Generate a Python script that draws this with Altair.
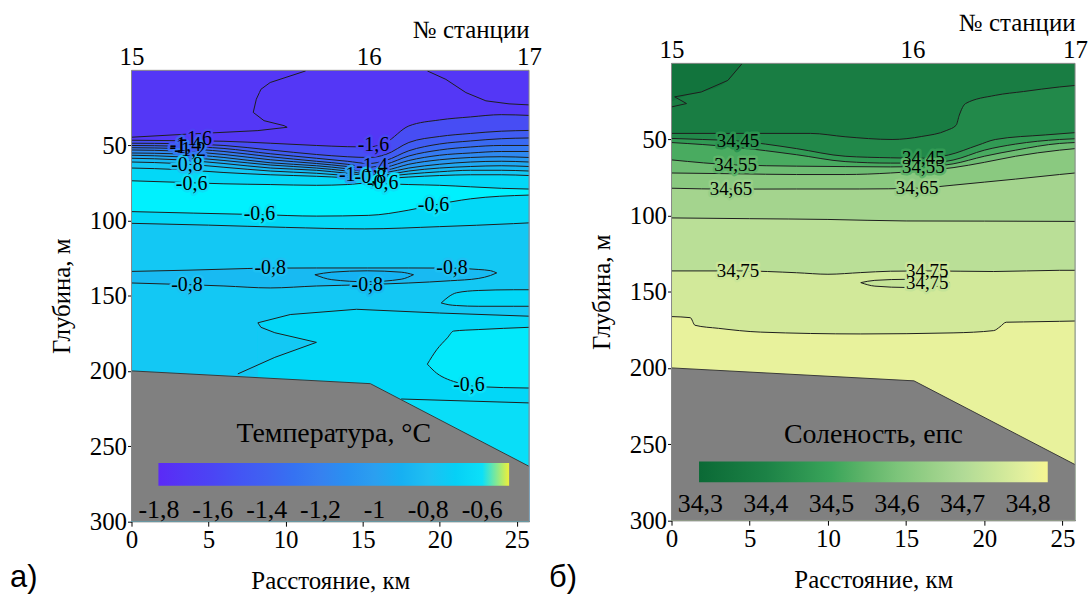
import altair as alt
import pandas as pd

FONT = "Liberation Serif, Times New Roman, serif"
PANEL_FONT = "Liberation Sans, Arial, sans-serif"
LINE_COLOR = "#1e1e1e"

# ---------------- common geometry of the section ----------------
STATION_KM = [0.0, 15.4, 25.8]
STATION_NAMES = ["15", "16", "17"]
X_TICKS = [0, 5, 10, 15, 20, 25]
Y_TICKS = [50, 100, 150, 200, 250, 300]
X_MAX = 25.8
DEPTH_MAX = 300.0
SEABED_KM = [0.0, 15.5, 25.8]
SEABED_DEPTH = [200.0, 208.5, 263.5]

# ---------------- temperature (panel a) ----------------
T_DOMAIN = [-1.802, -1.6, -1.4, -1.2, -1.0, -0.8, -0.6, -0.53, -0.517, -0.5]
T_RANGE = ["#5b2af6", "#4b45f4", "#3f62f2", "#3681f0", "#2b9ff0",
           "#1fc0f2", "#0ce0f8", "#00f4ff", "#cfee4a", "#eef03a"]
T_LEGEND_VALUES = [-1.8, -1.6, -1.4, -1.2, -1.0, -0.8, -0.6]
T_SURFACE = -1.72

# isotherms crossing the whole section: depth (m) at T_ISO_X (km)
T_ISO_X = [0, 3, 6, 9, 12, 14, 15.4, 16.5, 18, 20, 22, 24, 25.8]
T_ISO_M16 = [46.5, 46.8, 47.2, 48.5, 50, 50.8, 51, 48, 37, 33, 31, 29.5, 30]
T_ISO_M15 = [48.5, 48.8, 50, 53, 56, 57.5, 58, 56, 48, 44, 42, 40.5, 40]
T_ISO_M14 = [50, 50.5, 52, 55.5, 58.5, 60.5, 62, 60, 53.5, 49, 47, 45.5, 45]
T_ISO_M13 = [51.5, 52, 54, 57.5, 60.5, 62.5, 64.5, 62.5, 57, 53, 51, 50, 50]
T_ISO_M12 = [53, 53.7, 56, 59.5, 62, 64, 66, 64.5, 60, 56.5, 55, 54, 54]
T_ISO_M11 = [55, 55.6, 58, 61.5, 63.5, 65.5, 67.5, 66.5, 62.5, 59.5, 58, 57.5, 58]
T_ISO_M10 = [56.5, 57.5, 60, 63, 65, 67, 69, 68, 65, 62.5, 61, 60.5, 61]
T_ISO_M09 = [58.5, 59.5, 62, 65, 66.5, 68.5, 70, 69.5, 67, 65, 64, 63.5, 64]
T_ISO_M08 = [61, 62, 64.5, 67, 68.5, 70, 71, 70.5, 69, 67.5, 66.5, 66.5, 67]
T_ISO_M07 = [65, 66, 68, 69.5, 70.5, 71.5, 72.5, 72, 71, 70, 69.5, 69.5, 70]
T_ISO_M06 = [73.5, 74.5, 75.5, 76, 76.5, 76, 75, 75.5, 76, 76.5, 77.5, 78.5, 79]
T_ISO_BELOW = [-1.55, -1.45, -1.35, -1.25, -1.15, -1.05, -0.95, -0.85, -0.75, -0.65, -0.54]

T_W06_X = [0, 4, 8.3, 12, 15.4, 18, 19.6, 22, 25.8]
T_W06_D = [94, 95, 96, 97, 96.5, 93, 89.7, 85.5, 83]
T_W06_BELOW = -0.65
T_W07_X = [0, 5, 10, 15.1, 20, 24.8, 25.8]
T_W07_D = [101.8, 103, 104.5, 105.5, 104, 102, 101.5]
T_W07_BELOW = -0.75
T_P07_X = [8.2, 10.3, 14.6, 20, 25.8]
T_P07_D = [168, 162.5, 159, 161.5, 163.6]
T_P07_BELOW = -0.66
T_S06_X = [17.5, 25.8]
T_S06_D = [218.7, 221.3]
T_S06_BELOW = -0.61

# closed / edge-bounded tongues: x, upper depth, lower depth, value inside
T_B08_X = [0, 3.6, 6, 9, 12, 15.3, 18, 20.7, 22.5, 23.3, 23.7]
T_B08_TOP = [133.8, 133, 132.3, 131.6, 131.5, 131.5, 131.5, 131.6, 132.5, 133.3, 134.8]
T_B08_BOT = [141.5, 142.6, 143.5, 144.8, 143.5, 142.6, 141.5, 140, 138.5, 136.5, 134.8]
T_B08_VALUE = -0.84
T_B085_X = [11.9, 13, 15.3, 17.5, 18.3]
T_B085_TOP = [136, 134.3, 133.4, 134.3, 136]
T_B085_BOT = [136, 139.3, 140.7, 139, 136]
T_B085_VALUE = -0.88
T_B07R_X = [20.1, 20.6, 21.1, 22.5, 24.8, 25.8]
T_B07R_TOP = [154.8, 150.5, 148, 146.5, 146, 146]
T_B07R_BOT = [154.8, 156, 156.5, 157, 157, 157]
T_B07R_VALUE = -0.66
T_TONGUE_X = [8.2, 9.3, 12.0]
T_TONGUE_TOP = [168, 174.6, 181]
T_TONGUE_BOT = [196, 191, 181]
T_TONGUE_VALUE = -0.75
T_Q06_X = [19.2, 19.8, 20.5, 20.9, 22.5, 25.8]
T_Q06_TOP = [195.5, 186, 178, 173.5, 172.5, 171]
T_Q06_BOT = [195.5, 201.5, 205.5, 207, 210.5, 211.4]
T_Q06_VALUE = -0.57

# isotherms that fold back on themselves (drawn as ordered paths)
T_P17A_X = [11.3, 9.0, 8.4, 8.3, 8.1, 7.9, 8.6, 9.9, 10.1, 8.2, 3.9, 0]
T_P17A_D = [0.4, 8.1, 12.6, 14.8, 19.2, 28, 33.5, 36.8, 37.9, 40.1, 42.3, 44.5]
T_P17B_X = [19.2, 20.4, 21.7, 23.0, 24.5, 25.8]
T_P17B_D = [0.4, 6, 14.8, 20.3, 22.3, 23]
T_P07_PATH_X = [25.8, 20, 14.6, 10.3, 8.2, 8.4, 9.3, 12.0, 9.3, 6.9]
T_P07_PATH_D = [163.6, 161.5, 159, 162.5, 168, 171, 174.6, 181, 191, 202]

T_LABEL_TEXT = ["-1", "-1,6", "-1,4", "-1,2", "-0,8", "-0,6",
                "-1,6", "-1,4", "-1", "-0,8", "-0,6",
                "-0,6", "-0,6", "-0,8", "-0,8", "-0,8", "-0,8", "-0,6"]
T_LABEL_X = [3.0, 4.2, 3.5, 3.8, 3.6, 3.9,
             15.7, 15.6, 14.0, 15.5, 16.3,
             8.3, 19.6, 9.0, 20.8, 3.6, 15.3, 21.9]
T_LABEL_D = [51.0, 45.5, 49.5, 52.8, 63.0, 75.4,
             50.0, 63.8, 69.5, 70.8, 74.8,
             95.5, 89.5, 131.5, 131.6, 142.6, 142.6, 209.7]
T_LABEL_BG = [-1.3, -1.65, -1.45, -1.25, -0.8, -0.6,
              -1.6, -1.4, -1.0, -0.8, -0.6,
              -0.6, -0.6, -0.8, -0.8, -0.8, -0.84, -0.6]

# ---------------- salinity (panel b) ----------------
S_DOMAIN = [34.298, 34.4, 34.5, 34.6, 34.7, 34.8, 34.83]
S_RANGE = ["#0b6a36", "#1c8246", "#3aa55a", "#7cc47a", "#b0da96", "#e6f19e", "#f6f691"]
S_LEGEND_VALUES = [34.3, 34.4, 34.5, 34.6, 34.7, 34.8]
S_SURFACE = 34.38

S_ISO_X_40 = [0, 4, 8.9, 11.1, 14.1, 16, 17.6, 18.2, 18.4, 18.8, 20.7, 22.5, 24.8, 25.8]
S_ISO_D_40 = [46, 46, 46, 48.2, 50, 48, 44, 40.6, 34, 26.4, 21, 18.5, 15.5, 14.5]
S_ISO_X_45 = [0, 2, 4.25, 6, 8, 11.1, 14, 16.1, 17.7, 19.6, 20.7, 23.9, 25.8]
S_ISO_D_45 = [49.3, 50, 51, 53, 56, 61, 62, 62.3, 60.2, 53.7, 50, 47, 45.5]
S_ISO_X_50 = [0, 4, 8, 11.1, 14, 16.1, 18, 20, 22, 24.8, 25.8]
S_ISO_D_50 = [52, 55, 60, 64.5, 65.5, 65.5, 63.5, 57, 53, 50, 49.5]
S_ISO_X_55 = [0, 4.1, 8, 11.1, 14, 16.1, 18, 20, 22, 24.8, 25.8]
S_ISO_D_55 = [63.4, 66.7, 67.5, 67.8, 68, 67.8, 66, 61, 57, 52.6, 52]
S_ISO_X_60 = [0, 4, 8, 11.1, 14, 16.1, 18, 20, 22, 24.8, 25.8]
S_ISO_D_60 = [72, 72.5, 73, 73, 72, 70.5, 68.5, 65, 61, 57, 56]
S_ISO_X_65 = [0, 3.8, 8, 12, 15.7, 18, 20, 22, 24.8, 25.8]
S_ISO_D_65 = [82, 82.6, 82.5, 82.5, 82, 80, 78, 76, 73, 72]
S_ISO_X_70 = [0, 5, 10, 15, 20, 25.8]
S_ISO_D_70 = [101.5, 102, 102.5, 103.5, 103.6, 103.8]
S_ISO_X_75 = [0, 4.3, 8, 10, 12.1, 14, 16.3, 20.6, 24.8, 25.8]
S_ISO_D_75 = [136.3, 136.3, 137.5, 138.5, 137.4, 136.5, 136.3, 136.7, 135.9, 135.9]
S_ISO_X_80 = [0, 1.2, 1.5, 3, 5.7, 12.1, 18, 20.6, 21.0, 21.4, 22.5, 24.8, 25.8]
S_ISO_D_80 = [166.3, 167, 172, 174, 176.5, 177.7, 177, 175.5, 173, 170, 169.8, 169.4, 169.2]
S_ISO_BELOW = [34.42, 34.47, 34.52, 34.575, 34.625, 34.675, 34.72, 34.765, 34.805]

S_CORNER_X = [0, 1.0, 1.9, 3.6, 4.5]
S_CORNER_BOT = [25, 21, 18.8, 11.2, 0.3]
S_CORNER_VALUE = 34.34
S_P35_X = [4.5, 3.6, 1.9, 0.2, 0.96, 0]
S_P35_D = [0.3, 11.2, 18.8, 22, 26.4, 28.6]
S_L75_X = [12.1, 13, 15.1, 17, 17.8]
S_L75_TOP = [144, 142.5, 141.8, 142.2, 144]
S_L75_BOT = [144, 146.3, 147.2, 146.5, 144]
S_L75_VALUE = 34.74

S_LABEL_TEXT = ["34,45", "34,55", "34,65", "34,45", "34,55", "34,65", "34,75", "34,75", "34,75"]
S_LABEL_X = [4.25, 4.1, 3.8, 16.1, 16.1, 15.7, 4.25, 16.35, 16.35]
S_LABEL_D = [50.8, 66.7, 82.6, 62.3, 67.8, 82.0, 136.3, 136.3, 144.0]
S_LABEL_BG = [34.45, 34.55, 34.65, 34.47, 34.55, 34.65, 34.75, 34.75, 34.74]

# ---------------- layout (pixels) ----------------
T_W, T_H, T_TOP = 399, 459.5, 7      # left plot starts 7 px lower than the right one
S_W, S_H, S_TOP = 405, 458.5, 0


def pos(yscale):
    return dict(x=alt.X("x:Q", scale=alt.Scale(domain=[0, X_MAX], nice=False, zero=False), axis=None),
                y=alt.Y("d:Q", scale=yscale, axis=None))


def fill_layer(xs, tops, bots, value, cscale, legend, yscale, x_axis=None, y_axis=None):
    df = pd.DataFrame({"x": xs, "d": tops, "bot": bots, "v": [value] * len(xs)})
    return alt.Chart(df).mark_area(interpolate="monotone").encode(
        x=alt.X("x:Q", scale=alt.Scale(domain=[0, X_MAX], nice=False, zero=False), axis=x_axis),
        y=alt.Y("d:Q", scale=yscale, axis=y_axis),
        y2="bot:Q",
        color=alt.Color("v:Q", scale=cscale, legend=legend),
    )


def mono_lines(lines, yscale):
    rows = []
    for i, (xs, ds) in enumerate(lines):
        for x, d in zip(xs, ds):
            rows.append({"x": x, "d": d, "id": i})
    return alt.Chart(pd.DataFrame(rows)).mark_line(
        interpolate="monotone", color=LINE_COLOR, strokeWidth=1
    ).encode(detail="id:N", **pos(yscale))


def path_lines(lines, yscale):
    rows = []
    for i, (xs, ds) in enumerate(lines):
        for k, (x, d) in enumerate(zip(xs, ds)):
            rows.append({"x": x, "d": d, "id": i, "o": k})
    return alt.Chart(pd.DataFrame(rows)).mark_line(
        interpolate="linear", color=LINE_COLOR, strokeWidth=1
    ).encode(detail="id:N", order="o:Q", **pos(yscale))


def contour_labels(texts, xs, ds, bgs, domain, rng, size, yscale):
    df = pd.DataFrame({"t": texts, "x": xs, "d": ds, "bg": bgs})
    # same colour mapping as the field, written with a reversed domain so that
    # Vega-Lite does not fold these (legend-less) scales into the colour bar
    halo_scale = dict(domain=domain[::-1], range=rng[::-1])
    halo = alt.Chart(df).mark_text(font=FONT, fontSize=size, strokeWidth=5, strokeJoin="round").encode(
        text="t:N",
        stroke=alt.Stroke("bg:Q", scale=alt.Scale(**halo_scale), legend=None),
        fill=alt.Fill("bg:Q", scale=alt.Scale(**halo_scale), legend=None),
        **pos(yscale),
    )
    txt = alt.Chart(df).mark_text(font=FONT, fontSize=size, color="black").encode(text="t:N", **pos(yscale))
    return [halo, txt]


def seabed_layers(yscale):
    df = pd.DataFrame({"x": SEABED_KM, "d": SEABED_DEPTH, "bot": [DEPTH_MAX] * len(SEABED_KM)})
    area = alt.Chart(df).mark_area(color="#808080").encode(y2="bot:Q", **pos(yscale))
    edge = alt.Chart(df).mark_line(color="#3a3a3a", strokeWidth=1).encode(**pos(yscale))
    return area, edge


def frame_layer(yscale):
    df = pd.DataFrame({"x": [0.0], "x2": [X_MAX], "d": [0.0], "d2": [DEPTH_MAX]})
    return alt.Chart(df).mark_rect(fillOpacity=0, stroke="#8a8a8a", strokeWidth=1).encode(
        x2="x2:Q", y2="d2:Q", **pos(yscale))


def station_layer(width, offset):
    expr = " : ".join(
        "abs(datum.value - %s) < 0.05 ? '%s'" % (km, nm) for km, nm in zip(STATION_KM, STATION_NAMES)
    ) + " : ''"
    ax = alt.Axis(orient="top", values=STATION_KM, labelExpr=expr, ticks=False, tickSize=0,
                  domain=False, labelPadding=1, labelFlush=False, labelOverlap=False, offset=offset,
                  title="№ станции", titleX=width, titleY=-33, titleAlign="right",
                  titleBaseline="alphabetic", titleAnchor="end")
    return alt.Chart(pd.DataFrame({"x": STATION_KM})).mark_point(opacity=0).encode(
        x=alt.X("x:Q", scale=alt.Scale(domain=[0, X_MAX], nice=False, zero=False), axis=ax)
    )


def text_at(txt, px, py, font, size):
    return alt.Chart(pd.DataFrame({"t": [txt]})).mark_text(
        font=font, fontSize=size, align="left", baseline="alphabetic", color="black"
    ).encode(text="t:N", x=alt.value(px), y=alt.value(py))


def legend(title, values, gx, gy, length, thick, title_pad, label_off):
    return alt.Legend(
        type="gradient", orient="none", direction="horizontal", legendX=gx, legendY=gy,
        gradientLength=length, gradientThickness=thick, gradientStrokeWidth=0,
        title=title, titleOrient="top", titleAnchor="middle", titleFontSize=28, titlePadding=title_pad,
        titleLimit=1000, labelLimit=200,
        labelFontSize=26, labelOffset=label_off, labelOverlap=False,
        values=values, labelExpr="replace(toString(round(datum.value*100)/100), '.', ',')",
        padding=0,
    )


X_AXIS = alt.Axis(orient="bottom", values=X_TICKS, title="Расстояние, км", tickSize=5,
                  labelPadding=1, titlePadding=17, labelFlush=False, labelOverlap=False)
Y_AXIS = alt.Axis(values=Y_TICKS, title="Глубина, м", tickSize=4, labelPadding=1,
                  titlePadding=15, labelFlush=False, labelOverlap=False)

# ---------------- panel a: temperature ----------------
t_y = alt.Scale(domain=[0, DEPTH_MAX], range=[T_TOP, T_H], nice=False, zero=False)
t_scale = alt.Scale(domain=T_DOMAIN, range=T_RANGE)
t_leg = legend("Температура, °C", T_LEGEND_VALUES, 27, 358, 352, 23, 15, 11)

t_layers = [fill_layer([0, X_MAX], [0, 0], [DEPTH_MAX, DEPTH_MAX], T_SURFACE, t_scale, t_leg, t_y, X_AXIS, Y_AXIS)]
t_iso = [T_ISO_M16, T_ISO_M15, T_ISO_M14, T_ISO_M13, T_ISO_M12, T_ISO_M11,
         T_ISO_M10, T_ISO_M09, T_ISO_M08, T_ISO_M07, T_ISO_M06]
for ds, v in zip(t_iso, T_ISO_BELOW):
    t_layers.append(fill_layer(T_ISO_X, ds, [DEPTH_MAX] * len(ds), v, t_scale, t_leg, t_y))
for xs, ds, v in [(T_W06_X, T_W06_D, T_W06_BELOW), (T_W07_X, T_W07_D, T_W07_BELOW)]:
    t_layers.append(fill_layer(xs, ds, [DEPTH_MAX] * len(ds), v, t_scale, t_leg, t_y))
for xs, tp, bt, v in [(T_B08_X, T_B08_TOP, T_B08_BOT, T_B08_VALUE),
                      (T_B085_X, T_B085_TOP, T_B085_BOT, T_B085_VALUE),
                      (T_B07R_X, T_B07R_TOP, T_B07R_BOT, T_B07R_VALUE)]:
    t_layers.append(fill_layer(xs, tp, bt, v, t_scale, t_leg, t_y))
t_layers.append(fill_layer(T_P07_X, T_P07_D, [DEPTH_MAX] * len(T_P07_X), T_P07_BELOW, t_scale, t_leg, t_y))
t_layers.append(fill_layer(T_TONGUE_X, T_TONGUE_TOP, T_TONGUE_BOT, T_TONGUE_VALUE, t_scale, t_leg, t_y))
t_layers.append(fill_layer(T_Q06_X, T_Q06_TOP, T_Q06_BOT, T_Q06_VALUE, t_scale, t_leg, t_y))
t_layers.append(fill_layer(T_S06_X, T_S06_D, [DEPTH_MAX] * 2, T_S06_BELOW, t_scale, t_leg, t_y))

sb_area, sb_edge = seabed_layers(t_y)
t_layers.append(sb_area)
t_mono = [(T_ISO_X, ds) for ds in t_iso] + [
    (T_W06_X, T_W06_D), (T_W07_X, T_W07_D), (T_S06_X, T_S06_D),
    (T_B08_X, T_B08_TOP), (T_B08_X, T_B08_BOT),
    (T_B085_X, T_B085_TOP), (T_B085_X, T_B085_BOT),
    (T_B07R_X, T_B07R_TOP), (T_B07R_X, T_B07R_BOT),
    (T_Q06_X, T_Q06_TOP), (T_Q06_X, T_Q06_BOT),
]
t_layers.append(mono_lines(t_mono, t_y))
t_layers.append(path_lines([(T_P17A_X, T_P17A_D), (T_P17B_X, T_P17B_D), (T_P07_PATH_X, T_P07_PATH_D)], t_y))
t_layers.append(sb_edge)
t_layers += contour_labels(T_LABEL_TEXT, T_LABEL_X, T_LABEL_D, T_LABEL_BG, T_DOMAIN, T_RANGE, 20, t_y)
t_layers.append(frame_layer(t_y))
t_layers.append(station_layer(T_W, -T_TOP))
t_layers.append(text_at("а)", -122, 526, PANEL_FONT, 31))

left = alt.layer(*t_layers).properties(width=T_W, height=T_H).resolve_axis(x="independent", y="independent")

# ---------------- panel b: salinity ----------------
s_y = alt.Scale(domain=[0, DEPTH_MAX], range=[S_TOP, S_H], nice=False, zero=False)
s_scale = alt.Scale(domain=S_DOMAIN, range=S_RANGE)
s_leg = legend("Соленость, епс", S_LEGEND_VALUES, 27.6, 359.5, 350, 21, 12, 9)

s_layers = [fill_layer([0, X_MAX], [0, 0], [DEPTH_MAX, DEPTH_MAX], S_SURFACE, s_scale, s_leg, s_y, X_AXIS, Y_AXIS)]
s_layers.append(fill_layer(S_CORNER_X, [0] * len(S_CORNER_X), S_CORNER_BOT, S_CORNER_VALUE, s_scale, s_leg, s_y))
s_iso = [(S_ISO_X_40, S_ISO_D_40), (S_ISO_X_45, S_ISO_D_45), (S_ISO_X_50, S_ISO_D_50),
         (S_ISO_X_55, S_ISO_D_55), (S_ISO_X_60, S_ISO_D_60), (S_ISO_X_65, S_ISO_D_65),
         (S_ISO_X_70, S_ISO_D_70), (S_ISO_X_75, S_ISO_D_75), (S_ISO_X_80, S_ISO_D_80)]
for (xs, ds), v in zip(s_iso, S_ISO_BELOW):
    s_layers.append(fill_layer(xs, ds, [DEPTH_MAX] * len(ds), v, s_scale, s_leg, s_y))
s_layers.append(fill_layer(S_L75_X, S_L75_TOP, S_L75_BOT, S_L75_VALUE, s_scale, s_leg, s_y))
sb_area2, sb_edge2 = seabed_layers(s_y)
s_layers.append(sb_area2)
s_layers.append(mono_lines(s_iso + [(S_L75_X, S_L75_TOP), (S_L75_X, S_L75_BOT)], s_y))
s_layers.append(path_lines([(S_P35_X, S_P35_D)], s_y))
s_layers.append(sb_edge2)
s_layers += contour_labels(S_LABEL_TEXT, S_LABEL_X, S_LABEL_D, S_LABEL_BG, S_DOMAIN, S_RANGE, 19, s_y)
s_layers.append(frame_layer(s_y))
s_layers.append(station_layer(S_W, 0))
s_layers.append(text_at("б)", -123, 525.5, PANEL_FONT, 31))

right = alt.layer(*s_layers).properties(width=S_W, height=S_H).resolve_axis(x="independent", y="independent")

chart = alt.hconcat(left, right, spacing=7).resolve_scale(
    color="independent", fill="independent", stroke="independent", x="independent", y="independent"
).resolve_legend(color="independent").properties(
    padding={"left": 10, "top": 9.5, "right": 0, "bottom": 0}
).configure_axis(
    labelFont=FONT, titleFont=FONT, labelFontSize=25, titleFontSize=25,
    labelColor="black", titleColor="black", titleFontWeight="normal",
    tickColor="black", domainColor="black", domainWidth=1, tickWidth=1, grid=False,
).configure_view(strokeOpacity=0).configure_legend(
    labelFont=FONT, titleFont=FONT, titleFontWeight="normal", labelColor="black", titleColor="black"
)

chart.save("out.html", embed_options={"renderer": "svg", "actions": False})
